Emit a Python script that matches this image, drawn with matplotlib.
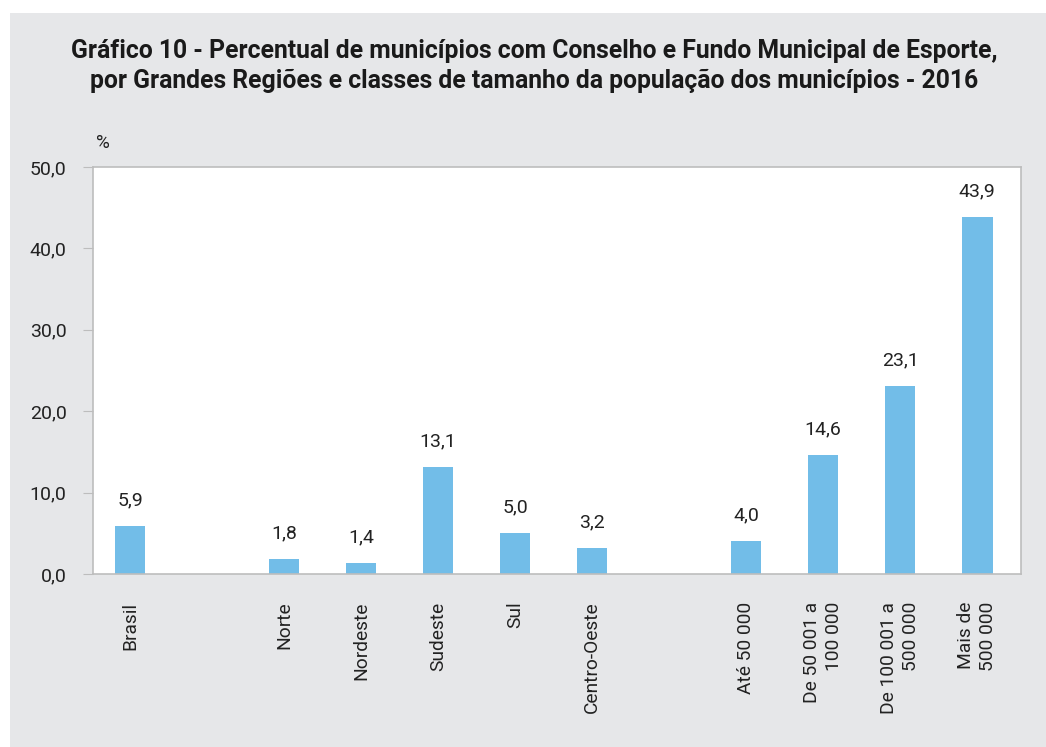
import matplotlib.pyplot as plt
from matplotlib.patches import Rectangle

# dados do gráfico
categorias = ['Brasil', 'Norte', 'Nordeste', 'Sudeste', 'Sul', 'Centro-Oeste',
              'Até 50 000', 'De 50 001 a\n100 000', 'De 100 001 a\n500 000', 'Mais de\n500 000']
posicoes = [0, 2, 3, 4, 5, 6, 8, 9, 10, 11]
valores = [5.9, 1.8, 1.4, 13.1, 5.0, 3.2, 4.0, 14.6, 23.1, 43.9]
yticks = [0, 10, 20, 30, 40, 50]

plt.rcParams['font.family'] = ['Roboto', 'DejaVu Sans']

fundo = '#E6E7E9'
azul = '#72BDE8'
cinza = '#BDBDBD'

fig = plt.figure(figsize=(10.46, 7.47), dpi=100)
fig.patch.set_facecolor('white')
fig.patches.append(Rectangle((10 / 1046, 0), 1, 1 - 13 / 747, transform=fig.transFigure,
                             facecolor=fundo, edgecolor='none', zorder=-10))

ax = fig.add_axes([93 / 1046, 1 - 574 / 747, (1021 - 93) / 1046, (574 - 167) / 747])
ax.set_facecolor('white')

ax.bar(posicoes, valores, width=0.4, color=azul, zorder=2)
for x, v in zip(posicoes, valores):
    ax.annotate(f'{v:.1f}'.replace('.', ','), (x, v), xytext=(0, 12), textcoords='offset points',
                ha='center', va='bottom', fontsize=14, color='#222222')

ax.set_xlim(-0.48, 11.57)
ax.set_ylim(0, 50)
ax.set_yticks(yticks)
ax.set_yticklabels([f'{t:.1f}'.replace('.', ',') for t in yticks], fontsize=14, color='#222222')
ax.set_xticks(posicoes)
ax.set_xticklabels(categorias, rotation=90, ha='center', va='top', multialignment='right',
                   fontsize=13.8, color='#222222', linespacing=1.3)
ax.tick_params(axis='x', length=0, pad=20)
ax.tick_params(axis='y', length=7, color=cinza, pad=12)
for s in ax.spines.values():
    s.set_color(cinza)
    s.set_linewidth(1.2)

fig.text(103 / 1046, 1 - 143 / 747, '%', fontsize=13.5, color='#222222', ha='center', va='center')
fig.text(534 / 1046, 1 - 66 / 747,
         'Gráfico 10 - Percentual de municípios com Conselho e Fundo Municipal de Esporte,\n'
         'por Grandes Regiões e classes de tamanho da população dos municípios - 2016',
         fontsize=17.8, fontweight='bold', ha='center', va='center', color='#1a1a1a',
         linespacing=1.3)

fig.savefig('out.png', dpi=100, facecolor='white')
